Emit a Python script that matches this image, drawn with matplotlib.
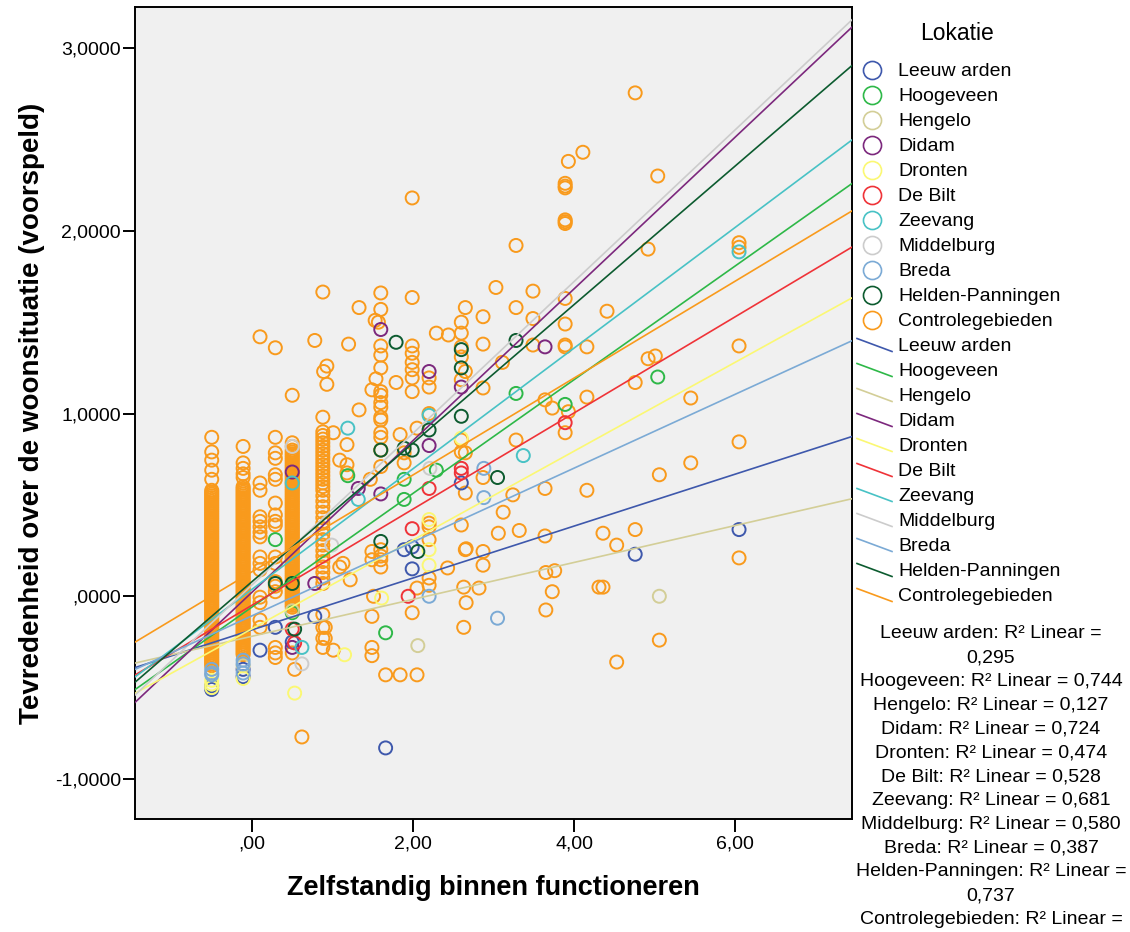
"""SPSS-style scatter: Tevredenheid over de woonsituatie vs Zelfstandig binnen functioneren."""

import matplotlib
matplotlib.use("Agg")
import matplotlib.pyplot as plt
import numpy as np

plt.rcParams["font.family"] = ["Liberation Sans", "DejaVu Sans"]

# === Categories, colours, fit lines ===
LOCATIONS = ["Leeuw arden", "Hoogeveen", "Hengelo", "Didam", "Dronten", "De Bilt",
             "Zeevang", "Middelburg", "Breda", "Helden-Panningen", "Controlegebieden"]
COLORS = ["#3E58AC", "#2EB848", "#D3CE97", "#7C287D", "#FBF873", "#EF3338",
          "#48C2C5", "#CCCCCC", "#7BAAD5", "#0C5B2F", "#F99A1C"]
INTERCEPTS = [-0.184, -0.059, -0.219, 0.022, -0.178, -0.049, 0.038, 0.062, -0.107, 0.080, 0.134]
SLOPES = [0.142, 0.311, 0.101, 0.415, 0.243, 0.263, 0.330, 0.415, 0.202, 0.379, 0.265]
# last value is cut off in the reference, so it is not shown
R2_TEXT = ["0,295", "0,744", "0,127", "0,724", "0,474", "0,528",
           "0,681", "0,580", "0,387", "0,737", None]

X_TICKS = [0, 2, 4, 6]
X_TICKLABELS = [",00", "2,00", "4,00", "6,00"]
Y_TICKS = [-1, 0, 1, 2, 3]
Y_TICKLABELS = ["-1,0000", ",0000", "1,0000", "2,0000", "3,0000"]

# === Controlegebieden: dense columns ===
COL_X = [-0.50, -0.11, 0.50, 0.88]
COL_M050 = [0.87, 0.79, 0.745, 0.69, 0.64,
            0.58, 0.57, 0.56, 0.55, 0.54, 0.53, 0.52, 0.51, 0.50, 0.49, 0.48, 0.47, 0.46,
            0.45, 0.44, 0.43, 0.42, 0.41, 0.40, 0.39, 0.38, 0.37, 0.36, 0.35, 0.34, 0.33,
            0.32, 0.31, 0.30, 0.29, 0.28, 0.27, 0.26, 0.25, 0.24, 0.23, 0.22, 0.21, 0.20,
            0.19, 0.18, 0.17, 0.16, 0.15, 0.14, 0.13, 0.12, 0.11, 0.10, 0.09, 0.08, 0.07,
            0.06, 0.05, 0.04, 0.03, 0.02, 0.01, 0.00, -0.01, -0.02, -0.03, -0.04, -0.05,
            -0.06, -0.07, -0.08, -0.09, -0.10, -0.11, -0.12, -0.13, -0.14, -0.15, -0.16,
            -0.17, -0.18, -0.19, -0.20, -0.21, -0.22, -0.23, -0.24, -0.25, -0.26, -0.27,
            -0.28, -0.29, -0.30, -0.31, -0.32, -0.33, -0.34, -0.35, -0.36, -0.37, -0.38]
COL_M011 = [0.82, 0.73, 0.70, 0.67, 0.65,
            0.60, 0.59, 0.58, 0.57, 0.56, 0.55, 0.54, 0.53, 0.52, 0.51, 0.50, 0.49, 0.48,
            0.47, 0.46, 0.45, 0.44, 0.43, 0.42, 0.41, 0.40, 0.39, 0.38, 0.37, 0.36, 0.35,
            0.34, 0.33, 0.32, 0.31, 0.30, 0.29, 0.28, 0.27, 0.26, 0.25, 0.24, 0.23, 0.22,
            0.21, 0.20, 0.19, 0.18, 0.17, 0.16, 0.15, 0.14, 0.13, 0.12, 0.11, 0.10, 0.09,
            0.08, 0.07, 0.06, 0.05, 0.04, 0.03, 0.02, 0.01, 0.00, -0.01, -0.02, -0.03,
            -0.04, -0.05, -0.06, -0.07, -0.08, -0.09, -0.10, -0.11, -0.12, -0.13, -0.14,
            -0.15, -0.16, -0.17, -0.18, -0.19, -0.20, -0.21, -0.22, -0.23, -0.24, -0.25,
            -0.26, -0.27, -0.28, -0.29, -0.30, -0.31, -0.32]
COL_P050 = [0.84, 0.82, 0.80, 0.79, 0.78, 0.77, 0.76, 0.75, 0.74, 0.73, 0.72, 0.71, 0.70,
            0.69, 0.68, 0.67, 0.66, 0.65, 0.64, 0.63, 0.62, 0.61, 0.60, 0.59, 0.58, 0.57,
            0.56, 0.55, 0.54, 0.53, 0.52, 0.51, 0.50, 0.49, 0.48, 0.47, 0.46, 0.45, 0.44,
            0.43, 0.42, 0.41, 0.40, 0.39, 0.38, 0.37, 0.36, 0.35, 0.34, 0.33, 0.32, 0.31,
            0.30, 0.29, 0.28, 0.27, 0.26, 0.25, 0.24, 0.23, 0.22, 0.21, 0.20, 0.19, 0.18,
            0.17, 0.16, 0.15, 0.14, 0.13, 0.12, 0.11, 0.10, 0.09, 0.08, 0.07, 0.06, 0.05,
            0.04, 0.03, 0.02, 0.01, 0.00, -0.01, -0.02, -0.03, -0.04, -0.05, -0.06]
COL_P088 = [0.98, 0.90, 0.88, 0.86, 0.84, 0.82, 0.80, 0.78, 0.76, 0.74, 0.72, 0.70, 0.68,
            0.66, 0.64, 0.62, 0.60, 0.58, 0.55, 0.52, 0.49, 0.46, 0.43, 0.40, 0.37, 0.34,
            0.31, 0.28, 0.25, 0.22, 0.19, 0.16, 0.13, 0.10, 0.07, -0.10, -0.17, -0.23, -0.28]

# === Controlegebieden: scattered points (x, y) ===
CTRL_PTS = [
    (0.10, 1.42), (0.10, 0.62), (0.10, 0.58), (0.10, 0.435), (0.10, 0.41), (0.10, 0.38),
    (0.10, 0.35), (0.10, 0.325), (0.10, 0.215), (0.10, 0.18), (0.10, 0.145), (0.10, -0.005),
    (0.10, -0.035), (0.10, -0.13), (0.10, -0.17),
    (0.29, 1.36), (0.29, 0.87), (0.29, 0.785), (0.29, 0.755), (0.29, 0.665), (0.29, 0.64),
    (0.29, 0.51), (0.29, 0.445), (0.29, 0.41), (0.29, 0.39), (0.29, 0.215), (0.29, 0.18),
    (0.29, 0.08), (0.29, 0.055), (0.29, 0.025), (0.29, -0.28), (0.29, -0.31), (0.29, -0.335),
    (0.50, 1.10), (0.50, -0.31), (0.53, -0.40), (0.62, -0.77), (0.78, 1.40),
    (0.88, 1.665), (0.89, 1.23), (0.93, 1.26), (0.93, 1.16),
    (1.01, 0.895), (1.09, 0.745), (1.18, 0.83), (1.18, 0.72), (1.18, 0.675), (1.20, 1.38),
    (1.22, 0.09), (1.13, 0.18), (1.09, 0.16), (1.01, -0.295), (0.91, -0.17), (0.91, -0.23),
    (1.33, 1.58), (1.33, 1.02), (1.47, 0.64), (1.49, 1.13), (1.49, 0.245), (1.49, 0.20),
    (1.51, 0.00), (1.49, -0.11), (1.49, -0.28), (1.49, -0.325), (1.53, 1.51), (1.57, 1.50),
    (1.54, 1.19),
    (1.60, 1.66), (1.60, 1.57), (1.60, 1.37), (1.60, 1.32), (1.60, 1.25), (1.60, 1.12),
    (1.60, 1.10), (1.60, 1.06), (1.60, 1.035), (1.60, 0.98), (1.60, 0.965), (1.60, 0.895),
    (1.60, 0.87), (1.60, 0.80), (1.60, 0.71), (1.60, 0.255), (1.60, 0.22), (1.60, 0.20),
    (1.60, 0.16),
    (1.66, -0.43), (1.79, 1.17), (1.84, 0.885), (1.84, -0.43), (1.89, 0.785), (1.89, 0.73),
    (1.99, 2.18), (1.99, 1.635), (1.99, 1.37), (1.99, 1.33), (1.99, 1.28), (1.99, 1.24),
    (1.99, 1.195), (1.99, 1.12), (1.99, -0.09),
    (2.05, 0.92), (2.05, 0.045), (2.05, -0.43),
    (2.20, 1.195), (2.20, 1.145), (2.20, 1.00), (2.20, 0.40), (2.20, 0.38), (2.20, 0.31),
    (2.20, 0.10), (2.20, 0.06),
    (2.29, 1.44), (2.44, 1.43), (2.43, 0.155),
    (2.60, 1.50), (2.60, 1.44), (2.60, 1.365), (2.60, 1.31), (2.60, 1.185), (2.60, 0.855),
    (2.60, 0.79), (2.60, 0.39),
    (2.65, 1.58), (2.65, 1.23), (2.65, 0.785), (2.65, 0.565), (2.65, 0.255), (2.66, 0.26),
    (2.63, 0.05), (2.66, -0.035), (2.63, -0.17),
    (2.82, 0.045), (2.87, 1.53), (2.87, 1.38), (2.87, 1.14), (2.87, 0.65), (2.87, 0.245),
    (2.87, 0.17),
    (3.03, 1.69), (3.06, 0.345), (3.11, 1.28), (3.12, 0.46), (3.24, 0.555),
    (3.28, 1.92), (3.28, 1.58), (3.28, 0.855), (3.32, 0.36),
    (3.49, 1.67), (3.49, 1.52), (3.49, 1.375),
    (3.64, 1.075), (3.64, 0.59), (3.64, 0.33), (3.65, 0.13), (3.65, -0.075),
    (3.73, 1.03), (3.73, 0.025), (3.76, 0.14),
    (3.89, 2.26), (3.89, 2.245), (3.89, 2.235), (3.89, 2.06), (3.89, 2.05), (3.89, 2.04),
    (3.89, 1.63), (3.89, 1.49), (3.89, 1.375), (3.89, 1.365), (3.89, 0.895),
    (3.93, 2.38), (3.93, 1.01), (4.11, 2.43),
    (4.16, 1.365), (4.16, 1.09), (4.16, 0.58), (4.31, 0.05), (4.36, 0.345), (4.36, 0.05),
    (4.41, 1.56), (4.53, 0.28), (4.53, -0.36), (4.76, 2.755), (4.76, 1.17), (4.76, 0.365),
    (4.92, 1.90), (4.92, 1.30), (5.04, 2.30), (5.01, 1.315), (5.06, 0.665), (5.06, -0.24),
    (5.45, 1.085), (5.45, 0.73), (6.05, 1.935), (6.05, 1.91), (6.05, 1.37), (6.05, 0.845),
    (6.05, 0.21),
]

# === Other locations (x, y) ===
LEEUW_PTS = [(-0.50, -0.51), (-0.50, -0.49), (-0.11, -0.44), (-0.11, -0.40), (0.10, -0.295),
             (0.29, -0.17), (0.50, -0.25), (0.78, -0.11), (1.66, -0.83), (1.89, 0.255),
             (1.99, 0.15), (1.99, 0.27), (2.60, 0.62), (4.76, 0.23), (6.05, 0.365)]
HOOG_PTS = [(0.29, 0.31), (0.50, -0.09), (1.19, 0.66), (1.66, -0.20), (1.89, 0.53),
            (1.89, 0.64), (2.29, 0.69), (3.28, 1.11), (3.89, 1.05), (5.04, 1.20)]
HENG_PTS = [(-0.11, -0.38), (0.50, -0.08), (2.06, -0.27), (5.06, 0.00)]
DIDAM_PTS = [(0.50, 0.68), (0.50, -0.28), (0.78, 0.07), (1.32, 0.59), (1.60, 1.46),
             (1.60, 0.56), (2.20, 1.23), (2.20, 0.825), (2.60, 1.145), (3.64, 1.365)]
DRONT_PTS = [(-0.50, -0.46), (-0.50, -0.48), (-0.50, -0.50), (-0.11, -0.45), (0.53, -0.53),
             (1.15, -0.32), (1.61, -0.01), (2.20, 0.42), (2.20, 0.255), (2.20, 0.17),
             (2.60, 0.865)]
BILT_PTS = [(0.50, -0.18), (0.53, -0.255), (1.94, 0.00), (1.99, 0.37), (2.20, 0.59),
            (2.60, 0.70), (2.60, 0.675), (3.89, 0.95)]
ZEEV_PTS = [(0.50, 0.62), (0.62, -0.28), (1.19, 0.92), (1.32, 0.53), (2.20, 0.99),
            (3.37, 0.77), (6.05, 1.885)]
MIDD_PTS = [(0.50, 0.82), (0.62, -0.37), (0.99, 0.28), (2.21, 0.70)]
BREDA_PTS = [(-0.50, -0.40), (-0.50, -0.42), (-0.50, -0.43), (-0.11, -0.35), (-0.11, -0.37),
             (-0.11, -0.42), (2.20, 0.00), (2.88, 0.70), (2.88, 0.54), (3.05, -0.12)]
HELD_PTS = [(0.29, 0.07), (0.50, 0.07), (0.53, -0.18), (1.60, 0.80), (1.60, 0.30),
            (1.79, 1.39), (1.89, 0.81), (1.99, 0.80), (2.06, 0.245), (2.20, 0.91),
            (2.60, 1.35), (2.60, 1.25), (2.60, 0.985), (3.05, 0.65), (3.28, 1.40)]

OTHER_PTS = [LEEUW_PTS, HOOG_PTS, HENG_PTS, DIDAM_PTS, DRONT_PTS, BILT_PTS,
             ZEEV_PTS, MIDD_PTS, BREDA_PTS, HELD_PTS]

X_LIM = (-1.453, 7.453)
Y_LIM = (-1.219, 3.225)

W, H = 1130, 932
fig = plt.figure(figsize=(W / 100, H / 100), dpi=100)
ax = fig.add_axes([135 / W, 1 - 819 / H, (852 - 135) / W, (819 - 7) / H])
ax.set_facecolor("#F0F0F0")

MS = 88
LW = 1.4
ctrl_color = COLORS[-1]

# dense columns first, then scattered control points
for cx, col in zip(COL_X, [COL_M050, COL_M011, COL_P050, COL_P088]):
    ax.scatter(np.full(len(col), cx), col, s=MS, facecolors="none",
               edgecolors=ctrl_color, linewidths=LW, zorder=2)
ctrl = np.array(CTRL_PTS)
ax.scatter(ctrl[:, 0], ctrl[:, 1], s=MS, facecolors="none",
           edgecolors=ctrl_color, linewidths=LW, zorder=2)

for pts, color in zip(OTHER_PTS, COLORS[:-1]):
    arr = np.array(pts)
    ax.scatter(arr[:, 0], arr[:, 1], s=MS, facecolors="none",
               edgecolors=color, linewidths=LW, zorder=2.5)

# fit lines
xs = np.array(X_LIM)
for b0, b1, color in zip(INTERCEPTS, SLOPES, COLORS):
    ax.plot(xs, b0 + b1 * xs, color=color, linewidth=1.2, zorder=3)

ax.set_xlim(*X_LIM)
ax.set_ylim(*Y_LIM)
ax.set_xticks(X_TICKS)
ax.set_xticklabels(X_TICKLABELS)
ax.set_yticks(Y_TICKS)
ax.set_yticklabels(Y_TICKLABELS)
ax.tick_params(axis="both", direction="out", length=9, width=1.4,
               labelsize=14, pad=3, colors="black")
ax.tick_params(axis="y", pad=1)
for sp in ax.spines.values():
    sp.set_linewidth(1.4)
    sp.set_color("black")

ax.set_xlabel("Zelfstandig binnen functioneren", fontsize=19.5,
              fontweight="bold", labelpad=16)
ax.set_ylabel("Tevredenheid over de woonsituatie (voorspeld)", fontsize=20,
              fontweight="bold", labelpad=7)

# === legend panel (pixel coordinates) ===
lax = fig.add_axes([0, 0, 1, 1])
lax.set_xlim(0, W)
lax.set_ylim(H, 0)
lax.axis("off")
lax.patch.set_alpha(0)

lax.text(957, 33, "Lokatie", fontsize=16.5, ha="center", va="center")
row0, row_h = 71.5, 25
for i, (name, color) in enumerate(zip(LOCATIONS, COLORS)):
    y = row0 + row_h * i
    lax.plot(872, y - 1.5, "o", ms=13, mfc="none", mec=color, mew=1.2)
    lax.text(898, y, name, fontsize=14, ha="left", va="center")
for i, (name, color) in enumerate(zip(LOCATIONS, COLORS)):
    y = row0 + row_h * (i + 11)
    lax.plot([857, 892], [y - 8, y + 5], color=color, linewidth=1.2)
    lax.text(898, y, name, fontsize=14, ha="left", va="center")

r2_lines = []
for name, r2 in zip(LOCATIONS, R2_TEXT):
    if r2 is None:
        r2_lines.append(f"{name}: R² Linear =")
    elif name in ("Leeuw arden", "Helden-Panningen"):
        r2_lines.append(f"{name}: R² Linear =")
        r2_lines.append(r2)
    else:
        r2_lines.append(f"{name}: R² Linear = {r2}")
for k, line in enumerate(r2_lines):
    lax.text(991, 634 + 23.8 * k, line, fontsize=14, ha="center", va="center")

fig.savefig("out.png", dpi=100)
plt.close(fig)
